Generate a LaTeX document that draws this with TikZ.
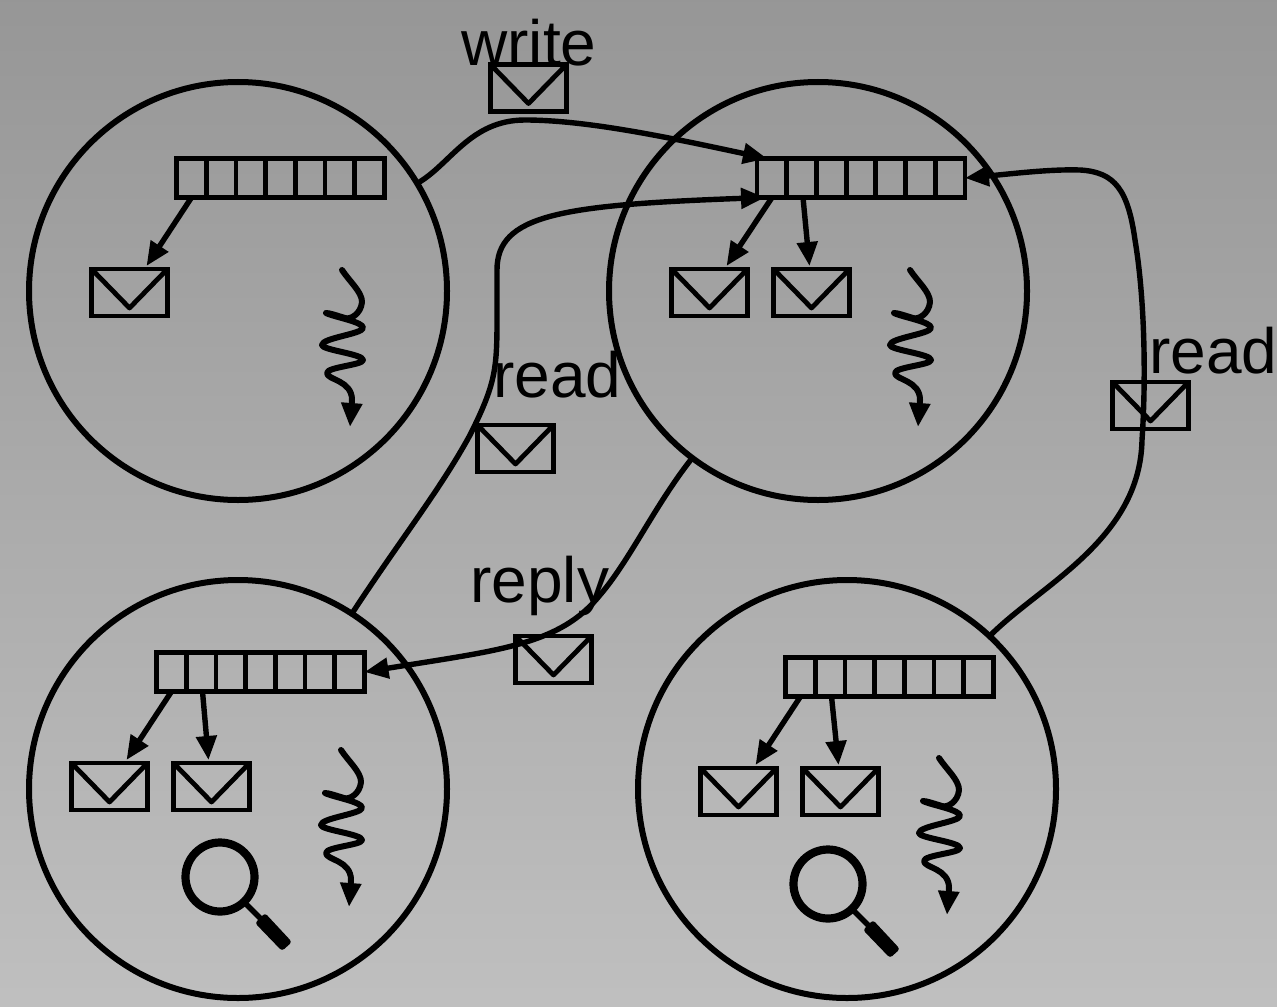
\documentclass[tikz,border=0pt]{standalone}
\usepackage{fontspec}
\setmainfont{Liberation Sans}
\usetikzlibrary{arrows.meta,calc}
\tikzset{
  ink/.style={line width=2.4pt,draw=black},
  tip/.style={-{Triangle[length=12pt,width=10pt]}},
  site/.style={circle,draw=black,line width=3pt,minimum size=209pt,inner sep=0pt,outer sep=0pt},
  letter/.style={rectangle,ink,minimum width=38pt,minimum height=23.5pt,inner sep=0pt,outer sep=0pt},
  queuebox/.style={rectangle,ink,minimum width=104pt,minimum height=19.5pt,inner sep=0pt,outer sep=0pt},
  link/.style={line width=2.7pt,tip},
  word/.style={anchor=base west,inner sep=0pt,font=\fontsize{32pt}{33pt}\selectfont},
  pics/wiggle/.style={code={
    \draw[line width=3pt,line cap=round,line join=round,tip] (0,0) .. controls (8,12) and (20,22) .. (20,32) .. controls (19,44) and (8,50) .. (3,48)
      .. controls (-4,46) and (-12,43) .. (-16,43)
      .. controls (-8,47) and (22,52) .. (21,58)
      .. controls (20,64) and (-20,68) .. (-20,75) .. controls (-20,80) and (21,84) .. (21,90)
      .. controls (21,95) and (-15,97) .. (-15,103) .. controls (-15,110) and (10,110) .. (10,130) -- (8,157);
  }},
  pics/lens/.style={code={
    \draw[line width=4.1pt] (0,0) circle (34.5);
    \draw[line width=2.8pt] (26,27) -- (41,42);
    \fill[rounded corners=1.5pt] (35,46) -- (45,36) -- (72,65) -- (62,74) -- cycle;
  }}
}
\newcommand{\envelope}[2]{%
  \node[letter] (#1) at (#2) {};
  \draw[ink,line join=round] (#1.north west) -- ($(#1.south)+(0,-8)$) -- (#1.north east);
}
\newcommand{\queuerow}[2]{%
  \node[queuebox] (#1) at (#2) {};
  \foreach \k in {1,...,6} {
    \draw[ink] ($(#1.north west)!\k/7!(#1.north east)$) -- ($(#1.south west)!\k/7!(#1.south east)$);
  }
}
\begin{document}
\begin{tikzpicture}[x=0.5pt,y=-0.5pt]
\useasboundingbox (0,0) rectangle (1277,1006);
\shade[top color=black!41,bottom color=black!25,draw=none] (0,0) rectangle (1277,1006);

\node[site] (c1) at (238,291) {};
\node[site] (c2) at (818,291) {};
\node[site] (c3) at (238,789) {};
\node[site] (c4) at (847,789) {};

\queuerow{q1}{280.5,178}
\queuerow{q2}{861,178}
\queuerow{q3}{260.5,672}
\queuerow{q4}{889.5,677}

\envelope{m1}{129.5,292.5}
\envelope{m2}{709.5,292.5}
\envelope{m3}{811.5,292.5}
\envelope{m4}{109.5,786.5}
\envelope{m5}{211.5,786.5}
\envelope{m6}{738.5,791.5}
\envelope{m7}{840.5,791.5}
\envelope{mw}{528.5,88}
\envelope{mr}{515.5,448.5}
\envelope{ms}{1150.5,405.5}
\envelope{mp}{553.5,659.5}

\draw[link] ($(q1.south west)+(15,0)$) -- ($(m1.north)+(17,-3)$);
\draw[link] ($(q2.south west)+(15,0)$) -- ($(m2.north)+(17,-3)$);
\draw[link] ($(q2.south west)+(46,0)$) -- ($(m3.north)+(-2,-3)$);
\draw[link] ($(q3.south west)+(15,0)$) -- ($(m4.north)+(17,-3)$);
\draw[link] ($(q3.south west)+(46,0)$) -- ($(m5.north)+(-3,-3)$);
\draw[link] ($(q4.south west)+(15,0)$) -- ($(m6.north)+(17,-3)$);
\draw[link] ($(q4.south west)+(46,0)$) -- ($(m7.north)+(-2,-3)$);

% write
\draw[link] (c1.31) .. controls (450,165) and (470,120) .. (525,120)
  .. controls (590,120) and (680,140) .. ($(q2.north west)+(10,0)$);
% read (left)
\draw[link] (c3.57) .. controls (400,540) and (440,490) .. (470,435)
  .. controls (495,385) and (497,370) .. (497,320)
  .. controls (497,300) and (497,290) .. (497,270)
  .. controls (497,215) and (560,205) .. ($(q2.south west)+(8,0)$);
% read (right)
\draw[link] (c4.47) .. controls (1040,585) and (1140,540) .. (1142,440)
  .. controls (1146,380) and (1145,300) .. (1135,240)
  .. controls (1128,190) and (1115,172) .. (1080,170)
  .. controls (1050,169) and (1010,174) .. (q2.east);
% reply
\draw[link] (c2.233) .. controls (655,505) and (630,560) .. (600,595)
  .. controls (560,645) and (500,650) .. (q3.east);

\pic at (342,270) {wiggle};
\pic at (910,270) {wiggle};
\pic at (341,750) {wiggle};
\pic at (939,758) {wiggle};

\pic at (220,877) {lens};
\pic at (828,884) {lens};

\node[word] (tw) at (461,66) {write};
\node[word] (tr) at (493,397) {read};
\node[word] (ts) at (1149,373) {read};
\node[word] (tp) at (470,602) {reply};
\end{tikzpicture}
\end{document}
